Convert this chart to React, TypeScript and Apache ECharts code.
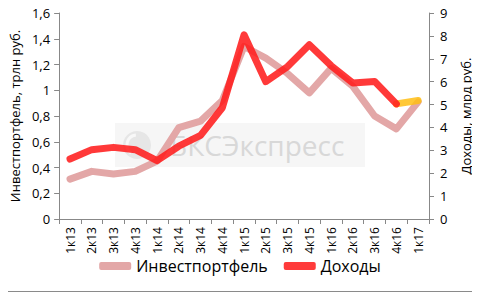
import React, { useEffect, useRef } from "react";
import * as echarts from "echarts";

const categories = ["1к13","2к13","3к13","4к13","1к14","2к14","3к14","4к14","1к15","2к15","3к15","4к15","1к16","2к16","3к16","4к16","1к17"];
const investPortfolio = [0.31,0.37,0.35,0.37,0.45,0.71,0.76,0.92,1.34,1.25,1.13,0.98,1.17,1.03,0.80,0.70,0.91];
const incomes: (number | null)[] = [2.62,3.03,3.13,3.03,2.55,3.18,3.65,4.86,8.05,6.0,6.66,7.61,6.7,5.94,6.01,5.03,null];
const incomesForecast: (number | null)[] = [null,null,null,null,null,null,null,null,null,null,null,null,null,null,null,5.03,5.18];
const leftTicks = ["0","0,2","0,4","0,6","0,8","1","1,2","1,4","1,6"];

const FONT = "'Open Sans', 'Noto Sans', sans-serif";

export default function App() {
  const ref = useRef<HTMLDivElement>(null);
  useEffect(() => {
    if (!ref.current) return;
    const chart = echarts.init(ref.current, undefined, { renderer: "svg" });
    const axisLine = { show: true, lineStyle: { color: "#888", width: 1 } };
    chart.setOption({
      animation: false,
      backgroundColor: "#fff",
      textStyle: { fontFamily: FONT },
      grid: { left: 59, right: 49, top: 13, bottom: 74 },
      graphic: [
        { type: "rect", left: 2, top: 2, z: -10, shape: { width: 474, height: 287 }, style: { fill: "none", stroke: "#8a8a8a", lineWidth: 1 } },
        { type: "rect", x: 115, y: 123, z: -5, shape: { width: 250, height: 44 }, style: { fill: "#f6f6f6" } },
        { type: "circle", x: 137, y: 145, z: -4, shape: { r: 14 }, style: { fill: "#e6e6e6" } },
        { type: "arc", x: 137, y: 145, z: -4, shape: { r: 10, startAngle: 2.2, endAngle: 4.6 }, style: { stroke: "#f8f8f8", lineWidth: 3, fill: "none" } },
        { type: "text", x: 170, y: 145, z: -4, style: { text: "БКСЭкспресс", fill: "#d8d8d8", font: `28px ${FONT}`, verticalAlign: "middle" } }
      ],
      legend: {
        bottom: 14,
        left: "center",
        itemWidth: 32,
        itemHeight: 8,
        itemGap: 16,
        icon: "roundRect",
        textStyle: { fontSize: 16, color: "#000", fontFamily: FONT },
        data: ["Инвестпортфель", "Доходы"]
      },
      xAxis: {
        type: "category",
        data: categories,
        boundaryGap: true,
        axisLine,
        axisTick: { show: true, length: 5, lineStyle: { color: "#888" } },
        axisLabel: { rotate: 90, fontSize: 12, color: "#000", margin: 8, interval: 0, fontFamily: FONT }
      },
      yAxis: [
        {
          type: "value",
          min: 0,
          max: 1.6,
          interval: 0.2,
          position: "left",
          name: "Инвестпортфель, трлн руб.",
          nameLocation: "middle",
          nameRotate: 90,
          nameGap: 38,
          nameTextStyle: { fontSize: 13, color: "#000", fontFamily: FONT },
          axisLine,
          axisTick: { show: true, length: 5, lineStyle: { color: "#888" } },
          splitLine: { show: false },
          axisLabel: {
            fontSize: 13,
            color: "#000",
            margin: 9,
            fontFamily: FONT,
            formatter: (v: number) => leftTicks[Math.round(v / 0.2)] ?? String(v)
          }
        },
        {
          type: "value",
          min: 0,
          max: 9,
          interval: 1,
          position: "right",
          name: "Доходы, млрд руб.",
          nameLocation: "middle",
          nameRotate: 90,
          nameGap: 30,
          nameTextStyle: { fontSize: 13, color: "#000", fontFamily: FONT },
          axisLine,
          axisTick: { show: true, length: 5, lineStyle: { color: "#888" } },
          splitLine: { show: false },
          axisLabel: { fontSize: 13, color: "#000", margin: 11, fontFamily: FONT }
        }
      ],
      series: [
        {
          name: "Инвестпортфель",
          type: "line",
          yAxisIndex: 0,
          data: investPortfolio,
          symbol: "none",
          color: "#e3a7a7",
          lineStyle: { width: 7, color: "#e3a7a7", cap: "round", join: "round" },
          z: 2
        },
        {
          name: "Доходы",
          type: "line",
          yAxisIndex: 1,
          data: incomes,
          symbol: "none",
          color: "#ff3b3b",
          lineStyle: { width: 7, color: "rgba(255,30,30,0.88)", cap: "round", join: "round" },
          z: 3
        },
        {
          name: "Прогноз",
          type: "line",
          yAxisIndex: 1,
          data: incomesForecast,
          symbol: "none",
          lineStyle: { width: 7, color: "rgba(255,190,20,0.85)", cap: "round", join: "round" },
          z: 2
        }
      ]
    });
    return () => chart.dispose();
  }, []);
  return <div ref={ref} style={{ width: 480, height: 293, marginLeft: -8, marginTop: -8 }} />;
}
